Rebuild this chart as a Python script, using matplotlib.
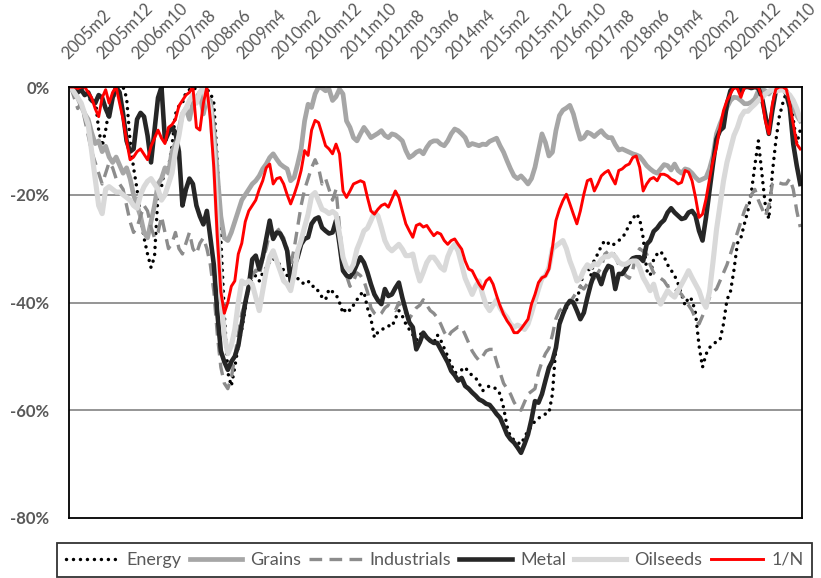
import matplotlib
matplotlib.use("Agg")
import matplotlib.pyplot as plt
import matplotlib.transforms as mtransforms

# monthly drawdowns (%), 2005m2 onwards
energy = [
    0, 0, -0.5, 0, -1, -1.5, -3, -2, -8, -11,
    -8, -4, -2, -1, -0.5, 0, -2, -10, -15, -19,
    -24, -28, -31, -33.5, -31.5, -20, -18.5, -15, -15, -11,
    -5, -3.5, -3, -1, -0.5, 0, -0.5, -0.5, -0.5, -0.5,
    -1, -3, -14, -28, -42, -53, -55.5, -52, -48, -45,
    -41, -37, -35.5, -35, -36, -34.5, -33.5, -32.5, -31.8, -32.5,
    -33, -34, -35, -35.5, -36, -35.5, -36.3, -36.5, -36, -37,
    -37, -38, -39, -39.5, -37.5, -38, -38.5, -40, -42, -41,
    -41.5, -40.5, -39.5, -38.5, -38, -41, -43, -46.5, -45.5, -45,
    -44.8, -44.3, -44.5, -43, -41.5, -42.5, -44, -45, -46, -47,
    -46, -45.5, -46.5, -47, -47.5, -46, -47, -48.5, -50, -51.5,
    -53, -53, -52.5, -52, -53, -53.5, -54, -55, -56.4, -55.8,
    -55.5, -55.8, -56, -57, -59.5, -63, -65, -65.5, -66, -66.3,
    -65, -63.8, -63, -62, -61.5, -61, -60.7, -60.5, -57, -48,
    -43.5, -42, -41, -40.3, -39.5, -39.5, -37, -34, -33, -35,
    -32, -31, -29.5, -28.5, -29, -29.5, -29, -28.5, -28, -27,
    -25.5, -24.5, -23.5, -24.5, -28, -34, -35, -32, -31, -30.5,
    -31.5, -33, -34, -35, -36.5, -38.5, -40.5, -39, -39.5, -42,
    -48, -52, -49.6, -48.4, -47.7, -47.3, -47, -44, -39.5, -38,
    -34, -29, -28, -25.4, -23, -19.5, -14.5, -10, -16, -22,
    -24.5, -16, -10, -5.5, -3, -1, -2.5, -6, -10.5, -8,
]

grains = [
    0, -1, -2, -3.5, -5, -6, -8.5, -10.5, -10, -12,
    -11, -13, -14, -13, -14.5, -16, -15, -17, -20, -22,
    -24, -27, -28, -25, -22, -18, -17, -15, -16, -12,
    -10.5, -8, -5, -4, -6, -3, -2, -1, -5, -2,
    -2.5, -8, -16, -24, -28, -28.5, -27, -25, -23, -21,
    -20, -19, -18, -17.4, -16.5, -15.2, -14.3, -13.1, -12.4, -13.4,
    -14.3, -14.8, -15.2, -17.4, -16.8, -14.3, -11.5, -6.3, -3.2, -3.8,
    -1.3, 0, -0.2, -0.7, -0.4, -2.5, -1.8, -0.4, -1.3, -6.3,
    -7.5, -9.4, -10, -8.7, -7.5, -8.4, -9.4, -9, -8.6, -8.1,
    -9, -9.4, -8.7, -8.9, -9.4, -10, -11.8, -13.1, -12.7, -12.1,
    -11.8, -12.4, -11.2, -10.3, -10, -10, -10.6, -10.9, -10, -8.7,
    -7.8, -8.1, -8.7, -9.4, -10.9, -10.5, -10.7, -10.9, -10.6, -10.7,
    -10.1, -9.8, -9.5, -10.9, -12.1, -13.7, -15.2, -16.5, -17, -16.5,
    -17.2, -18, -17, -14.9, -11.8, -8.7, -10.3, -12.8, -12.1, -8.1,
    -5.3, -4.3, -3.9, -3.4, -5, -7.5, -9.7, -9.4, -8.4, -8.7,
    -9.2, -8.6, -8.1, -8.9, -9.4, -9.4, -10.7, -11.7, -11.5, -11.8,
    -12.1, -12.4, -12.6, -12.9, -13.7, -14.6, -15.2, -15.7, -16, -15.2,
    -14.4, -14.6, -15.4, -14.3, -15.5, -16, -15.2, -15.4, -16, -16.8,
    -17.4, -17.1, -16.8, -15.2, -12.8, -8.7, -6.9, -5.3, -3.8, -2.5,
    -1.9, -2, -2.5, -3.1, -3.1, -2.8, -2.2, -0.7, -0.4, -0.7,
    -1.3, -0.4, 0, -0.2, -0.4, -0.7, -1.9, -3.5, -5.3, -6.3,
]

industrials = [
    0, -2, -4, -3, -6, -9, -12, -14, -16, -18,
    -16, -14, -15, -17, -18, -19, -22, -25, -27, -26,
    -24, -22, -23, -26, -28, -27, -24, -27, -30, -29,
    -27, -30, -31, -29, -27, -30, -31, -29, -28, -30,
    -33, -38, -46, -52, -55, -56, -54, -50, -46, -42,
    -40, -37, -35, -34, -35, -32, -30, -27, -28, -26,
    -27, -28, -30, -33, -30, -26, -22, -19, -17, -15,
    -13.5, -15, -18, -17, -19, -21, -19, -26, -32, -35,
    -37, -36, -34.5, -35, -36, -38, -41, -42, -42.5, -42,
    -41, -40.5, -41, -41.5, -40, -41, -42, -43, -42, -41,
    -40.5, -39.5, -40.5, -41.5, -42, -42.8, -44, -45.5, -46.5, -45.5,
    -45, -44.5, -44.6, -46, -47.5, -49, -50, -50.8, -50, -49,
    -48.7, -48.7, -51, -53, -55, -56, -57, -58.5, -59.5, -60,
    -58.5, -57, -56.5, -56, -53, -51, -49.5, -48.5, -46, -43,
    -41.5, -41, -40.5, -40, -39, -38, -37, -37.5, -36.5, -36,
    -35.5, -34.5, -33.5, -31, -30.5, -30.3, -31.5, -33, -34, -35,
    -35.5, -34, -31, -30, -30.5, -31, -33, -34.5, -35, -35.5,
    -36, -37, -36.8, -37.5, -38, -38.5, -39.5, -40.5, -41.5, -43,
    -44, -42.5, -41, -39, -38, -37.5, -36, -34.5, -33, -31,
    -29, -27, -25, -23, -21.5, -20, -19, -21, -22.5, -24,
    -22, -18, -17.5, -17.8, -18, -18, -17, -19, -23, -26,
]

metal = [
    0, -0.5, -1, -0.5, -1.5, -1, -2.5, -3, -1.5, -2,
    -4, -5.5, -2, 0, -1, -5, -10, -12, -11.5, -6,
    -4.8, -5.5, -9, -14, -8, -2, 0, -10, -8.5, -7.5,
    -8.5, -12, -22, -19, -17, -18, -22, -24, -25.5, -23,
    -28, -33, -42, -49, -51, -52.5, -51, -50, -48, -44,
    -40, -37, -32, -31.3, -33.8, -31.6, -28.2, -24.8, -28.2, -27,
    -27.2, -28.5, -30.4, -36, -33.2, -31.6, -29.2, -28.2, -27.9, -25.4,
    -24.5, -24.2, -26.1, -26.7, -27.2, -27, -24.8, -29.2, -34.1, -35,
    -35.3, -34.4, -32.9, -31.6, -32.6, -34.4, -36.6, -38.5, -39.6, -40.3,
    -37.5, -38.8, -38.5, -37.3, -36.3, -39.1, -41.5, -43.7, -44.6, -48.7,
    -47.4, -45.6, -46.5, -47.1, -47.5, -47.5, -48.7, -49.9, -51.1, -52.7,
    -53.5, -54.5, -54, -55.5, -56, -56.7, -57.3, -58, -58.3, -58.8,
    -59, -59.8, -60.7, -61.4, -62.9, -64.5, -65.4, -66, -66.9, -67.9,
    -66.3, -64.5, -61.7, -58.3, -58.6, -57, -54.5, -52.1, -50.8, -48.4,
    -44, -42.2, -40.6, -39.7, -40, -41.5, -43.1, -41.9, -39.1, -36.6,
    -34.7, -35, -36.6, -34.4, -33.2, -33.5, -37.5, -34.7, -34.7, -33.8,
    -32.6, -31.8, -31.6, -31.6, -32.3, -29.2, -28.5, -26.8, -26.2, -25.3,
    -24.7, -23.3, -22.5, -23.3, -23.9, -24.5, -24.3, -23.3, -23, -23.9,
    -26.7, -28.5, -24.2, -19.3, -14.3, -9.7, -8.1, -7.5, -3.2, -0.7,
    0, 0, -1, 0, 0, -0.2, 0, -0.2, -1.9, -5.3,
    -8.7, -4.4, -0.7, 0, 0, -1.3, -3.8, -10.6, -14.6, -18,
]

oilseeds = [
    0, -1, -2, -3, -5, -7, -12, -17, -22, -23.5,
    -19, -18.5, -19, -19.5, -19.5, -20, -20.5, -21, -22, -22.5,
    -20, -18.5, -17.5, -17, -18, -19, -21, -20, -18, -16,
    -12, -9, -5, -4, -2.5, -1.5, -3, -1, 0, -2,
    -4, -12, -25, -38, -46, -49.5, -48, -45, -40, -36,
    -36.5, -36, -36.6, -39, -41.5, -37.8, -34.1, -31.6, -30.4, -32.3,
    -34.1, -36, -36.6, -37.8, -34.7, -30.4, -28.5, -26, -23.6, -20.2,
    -19.6, -21.1, -22.7, -23, -23.5, -23.1, -23.6, -27.3, -31.6, -33.5,
    -34.1, -32.9, -30.1, -28.5, -26.7, -26.2, -24.8, -23.3, -23.9, -26.1,
    -28.5, -29.8, -30.4, -29.8, -29.2, -30.1, -31.3, -31.3, -31, -33.8,
    -36, -34.4, -32.6, -31.6, -31.6, -32.5, -33.5, -34, -31.5, -30,
    -29.2, -30.5, -33, -35.5, -37, -38.5, -37, -36, -38.5, -40.5,
    -41.5, -40.5, -39.5, -41, -42, -42.8, -44, -44.6, -44.2, -44.5,
    -45, -44, -42, -39.7, -37.5, -35.5, -35, -33.5, -30, -29.5,
    -29, -28.5, -30, -32.3, -34, -36, -35.5, -34, -33, -33.5,
    -32.8, -33, -32, -31.5, -31.5, -31, -31.5, -32.5, -32.9, -32.9,
    -32.5, -32.3, -32.3, -33.5, -35.4, -36.5, -37.8, -36.6, -39, -40.3,
    -39, -37.8, -38.5, -39, -37.8, -36.6, -35.4, -34.1, -35.4, -36.6,
    -37.8, -39.7, -40.9, -38, -32.5, -26.5, -22, -17.5, -14, -11.5,
    -9, -7.5, -5.5, -4.5, -4.5, -3.8, -3.2, -2.5, -2, -1.3,
    -0.8, -0.5, -0.8, -0.6, -0.5, -1, -1.5, -2.5, -4, -6,
]

one_over_n = [
    0, 0, -0.3, 0, 0, -1, -2, -4, -5.5, -2,
    -0.5, -3, -1, 0, -3, -6, -10, -13.5, -13, -12,
    -11.5, -12.5, -13.5, -11, -9.5, -8, -9.5, -10.5, -7.5, -7,
    -6, -3.5, -2.5, -1.5, -1, 0, -7.5, -8, -3, 0,
    -6, -15, -28, -38, -42, -40, -37, -36, -31, -29,
    -25, -23, -22, -21, -19, -17.4, -15, -14.3, -18, -17,
    -16.8, -18, -20, -21.7, -20, -18, -15.5, -11.8, -12.7, -8,
    -6.2, -6.6, -8.7, -10.9, -11.5, -12.4, -10.6, -12.4, -19.3, -20.5,
    -19.3, -18, -17.7, -17.4, -17.7, -20.5, -23, -23.6, -22.7, -22,
    -21.7, -22.3, -20.8, -19.3, -20.5, -23, -25.4, -26.7, -27.9, -25.7,
    -25.4, -26, -25.7, -26.7, -27.6, -27, -27.3, -28.5, -29.2, -28.5,
    -28.2, -29.2, -30.1, -32.3, -33.8, -34.1, -35.4, -36.6, -37.5, -36,
    -35.4, -36.6, -38.7, -40.6, -42.2, -43.4, -44.3, -45.6, -45.6, -44.9,
    -44, -43.1, -40.3, -38.5, -36.3, -35.4, -35.1, -33.8, -29.8, -24.8,
    -22.7, -21.1, -19.9, -21.7, -23.6, -25.4, -23, -19.9, -17.4, -17.1,
    -19.3, -18, -16.5, -15.9, -15.5, -16.8, -18, -15.5, -15.2, -14.6,
    -14.3, -13.1, -12.8, -14.9, -19.3, -18, -17.1, -16.8, -17.4, -16.2,
    -16.2, -16.5, -17.1, -17.4, -18, -17.7, -15.5, -15.8, -17.4, -20.5,
    -24.2, -23.6, -20.8, -17.1, -13.7, -11.2, -7.5, -4.4, -2.5, -1.3,
    0, -0.3, -1.9, 0, 0, 0, 0, 0, -1.9, -6.3,
    -8.7, -3.2, -0.4, 0, 0, -0.4, -3.2, -6.9, -10.6, -11.5,
]

month_labels = ["2005m2", "2005m12", "2006m10", "2007m8", "2008m6", "2009m4",
                "2010m2", "2010m12", "2011m10", "2012m8", "2013m6", "2014m4",
                "2015m2", "2015m12", "2016m10", "2017m8", "2018m6", "2019m4",
                "2020m2", "2020m12", "2021m10"]
y_ticks = [0, -20, -40, -60, -80]

FONT = ["Lato", "DejaVu Sans"]
TXT = "#595959"

fig = plt.figure(figsize=(8.21, 5.78), dpi=100)
ax = fig.add_axes([69 / 821, 1 - 518 / 578, 733 / 821, 431 / 578])

x = list(range(len(metal)))
ax.plot(x, energy, color="black", lw=2.5, linestyle=(0, (0.01, 2.0)),
        dash_capstyle="round", label="Energy")
ax.plot(x, grains, color="#a6a6a6", lw=3.4, label="Grains")
ax.plot(x, industrials, color="#8c8c8c", lw=2.4, linestyle=(0, (3.8, 2.2)),
        label="Industrials")
ax.plot(x, metal, color="#262626", lw=3.3, label="Metal")
ax.plot(x, oilseeds, color="#d9d9d9", lw=3.7, label="Oilseeds")
ax.plot(x, one_over_n, color="#ff0000", lw=2.1, label="1/N")

ax.set_xlim(-0.5, len(metal) - 0.5)
ax.set_ylim(-80, 0)

ax.set_yticks(y_ticks)
ax.set_yticklabels([f"{v}%" for v in y_ticks])
for lab in ax.get_yticklabels():
    lab.set_family(FONT)
    lab.set_fontsize(12)
    lab.set_fontweight("bold")
    lab.set_color(TXT)
ax.tick_params(axis="y", length=0, pad=14)
for v in y_ticks[1:-1]:
    ax.axhline(v, color="#8c8c8c", lw=1.3, zorder=0)

ax.xaxis.tick_top()
ax.set_xticks(range(0, len(metal), 10)[:len(month_labels)])
ax.set_xticklabels(month_labels, rotation=45, ha="left", va="center",
                   rotation_mode="anchor")
ax.tick_params(axis="x", length=0, pad=22)
shift = mtransforms.ScaledTranslation(-6 / 100, 0, fig.dpi_scale_trans)
for lab in ax.get_xticklabels():
    lab.set_family(FONT)
    lab.set_fontsize(12)
    lab.set_color(TXT)
    lab.set_transform(lab.get_transform() + shift)

for sp in ax.spines.values():
    sp.set_color("black")
    sp.set_linewidth(1.3)

handles, labels = ax.get_legend_handles_labels()
leg = fig.legend(handles, labels, loc="lower left",
                 bbox_to_anchor=(57 / 821, 1 / 578), ncol=6, frameon=True,
                 fancybox=False, edgecolor="black", borderaxespad=0,
                 handlelength=2.9, handletextpad=0.45, columnspacing=0.45,
                 borderpad=0.5, prop={"family": FONT, "size": 13})
leg.get_frame().set_linewidth(1.3)
for t in leg.get_texts():
    t.set_color(TXT)

fig.savefig("out.png", dpi=100)
